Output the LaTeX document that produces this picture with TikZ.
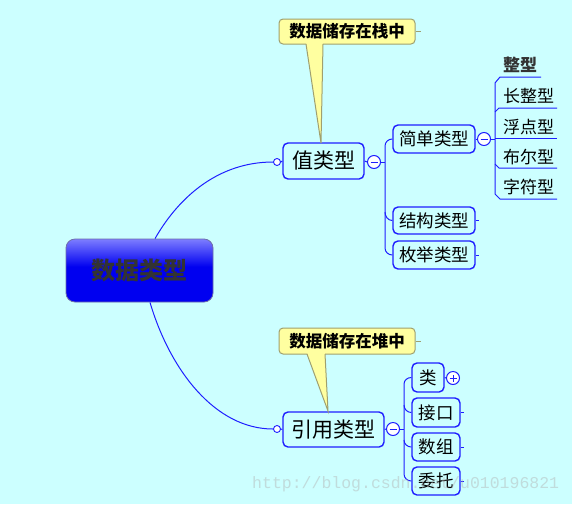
\documentclass[tikz,border=0pt]{standalone}
\usepackage{fontspec}
\setmainfont{Noto Sans CJK SC}
\newfontfamily\wmfont{Liberation Mono}
\definecolor{bg}{RGB}{204,255,255}
\definecolor{ln}{RGB}{30,30,255}
\definecolor{cofill}{RGB}{255,255,160}
\definecolor{codraw}{RGB}{160,160,110}
\definecolor{rtop}{RGB}{125,125,255}
\definecolor{rbot}{RGB}{0,0,240}
\definecolor{rtext}{RGB}{51,51,51}
\pgfdeclareverticalshading{rootshade}{100bp}{color(0bp)=(rbot); color(25bp)=(rbot); color(53bp)=(rbot); color(75bp)=(rtop); color(100bp)=(rtop)}
\begin{document}
\begin{tikzpicture}[x=1pt,y=-1pt,
  box/.style={draw=ln, line width=1.4pt, rounded corners=5pt, fill=bg, inner sep=0pt,
    font=\fontsize{17.5}{17.5}\selectfont},
  bigbox/.style={box, font=\fontsize{21}{21}\selectfont},
  conn/.style={draw=ln, line width=1pt},
  callout/.style={draw=codraw, line width=1pt, rounded corners=4pt, fill=cofill, inner sep=0pt,
    minimum width=136pt, minimum height=25pt, font=\fontsize{16.5}{17}\bfseries\selectfont},
  knob/.style={circle, draw=ln, fill=white, line width=1pt, inner sep=0pt, minimum size=13pt},
  dot/.style={circle, draw=ln, fill=white, line width=0.9pt, inner sep=0pt, minimum size=7pt},
  item/.style={anchor=west, inner sep=0pt, font=\fontsize{17}{17}\selectfont}]
\fill[bg] (0,0) rectangle (572,504);
\useasboundingbox (0,0) rectangle (572,504);

% root
\node[draw={rgb,255:red,110;green,110;blue,170}, line width=0.8pt, rounded corners=9pt, shading=rootshade,
  minimum width=147pt, minimum height=63pt, inner sep=0pt, text=rtext,
  font=\fontsize{24}{24}\bfseries\selectfont] (root) at (139.5,270.5) {数据类型};

% value type branch
\node[bigbox, minimum width=81pt, minimum height=36pt] (val) at (323.5,161) {值类型};
\node[dot] (vd) at (277,162) {};
\node[knob] (vm) at (374,162) {};
\draw[ln, line width=1pt] ([xshift=-3.5pt]vm.center) -- ([xshift=3.5pt]vm.center);
\draw[conn] ([xshift=15.5pt]root.north) .. controls (180,195) and (220,162) .. (vd.west);
\draw[conn] (vd.east) -- (val.west);
\draw[conn] (val.east) -- (vm.west);

\node[callout] (c1) at (347,31.5) {数据储存在栈中};
\coordinate (t1) at (321,143);
\fill[cofill] (306,42.5) -- (t1) -- (323,42.5) -- cycle;
\draw[codraw, line width=1pt] (306,44) -- (t1) -- (323,44);
\draw[codraw, line width=0.8pt] (c1.east) -- ++(5,0);

\node[box, minimum width=82pt, minimum height=28pt] (simple) at (434,139) {简单类型};
\node[box, minimum width=82pt, minimum height=27pt] (struct) at (434,220.5) {结构类型};
\node[box, minimum width=82pt, minimum height=28pt] (enum) at (434,255) {枚举类型};
\coordinate (vs) at (385,162);
\draw[conn] (vm.east) -- (vs);
\draw[conn] (simple.west) to[out=180,in=90] (385,146) -- (385,248) to[out=-90,in=180] (enum.west);
\draw[conn] (385,212) to[out=-90,in=180] (struct.west);
\draw[conn] (struct.east) -- ++(3,0);
\draw[conn] (enum.east) -- ++(3,0);

\node[knob] (sm) at (484,139) {};
\draw[ln, line width=1pt] ([xshift=-3.5pt]sm.center) -- ([xshift=3.5pt]sm.center);
\draw[conn] (simple.east) -- (sm.west);
\coordinate (ss) at (495,139);
\draw[conn] (sm.east) -- (ss);

\node[item, font=\fontsize{17}{17}\bfseries\selectfont, text=rtext] (i1) at (503,65) {整型};
\node[item] (i2) at (503,96) {长整型};
\node[item] (i3) at (503,127) {浮点型};
\node[item] (i4) at (503,157) {布尔型};
\node[item] (i5) at (503,187) {字符型};
\draw[conn] (541,77) -- (500,77) -- (495,83) -- (495,194) -- (500,199) -- (557,199);
\draw[conn] (495,112) -- (499,108) -- (557,108);
\draw[conn] (495,138) -- (557,138);
\draw[conn] (495,164) -- (499,168) -- (557,168);

% reference type branch
\node[bigbox, minimum width=101pt, minimum height=35pt] (ref) at (333.5,429.5) {引用类型};
\node[dot] (rd) at (277,429) {};
\node[knob] (rm) at (393,429) {};
\draw[ln, line width=1pt] ([xshift=-3.5pt]rm.center) -- ([xshift=3.5pt]rm.center);
\draw[conn] ([xshift=10.5pt]root.south) .. controls (170,370) and (215,429) .. (rd.west);
\draw[conn] (rd.east) -- (ref.west);
\draw[conn] (ref.east) -- (rm.west);

\node[callout, minimum height=26pt] (c2) at (347,341) {数据储存在堆中};
\coordinate (t2) at (328,411);
\fill[cofill] (307,352.5) -- (t2) -- (325,352.5) -- cycle;
\draw[codraw, line width=1pt] (307,354) -- (t2) -- (325,354);
\draw[codraw, line width=0.8pt] (c2.east) -- ++(5,0);

\node[box, minimum width=32pt, minimum height=29pt] (cls) at (428,377.5) {类};
\node[box, minimum width=48pt, minimum height=29pt] (intf) at (436,412.5) {接口};
\node[box, minimum width=48pt, minimum height=28pt] (arr) at (436,447) {数组};
\node[box, minimum width=48pt, minimum height=28pt] (dlg) at (436,481) {委托};
\coordinate (rs) at (404,429);
\draw[conn] (rm.east) -- (rs);
\draw[conn] (cls.west) to[out=180,in=90] (404,384) -- (404,474) to[out=-90,in=180] (dlg.west);
\draw[conn] (404,405) to[out=-90,in=180] (intf.west);
\draw[conn] (404,440) to[out=-90,in=180] (arr.west);
\draw[conn] (intf.east) -- ++(3,0);
\draw[conn] (arr.east) -- ++(3,0);
\draw[conn] (dlg.east) -- ++(3,0);

\node[knob] (cp) at (453,378) {};
\draw[ln, line width=1pt] ([xshift=-3.5pt]cp.center) -- ([xshift=3.5pt]cp.center);
\draw[ln, line width=1pt] ([yshift=-3.5pt]cp.center) -- ([yshift=3.5pt]cp.center);
\draw[conn] (cls.east) -- (cp.west);

% watermark
\node[anchor=base west, inner sep=0pt, text=gray!60, opacity=0.45,
  font=\wmfont\fontsize{16.5}{16.5}\selectfont] (wm) at (252,488) {http://blog.csdn.net/u010196821};
\end{tikzpicture}
\end{document}
